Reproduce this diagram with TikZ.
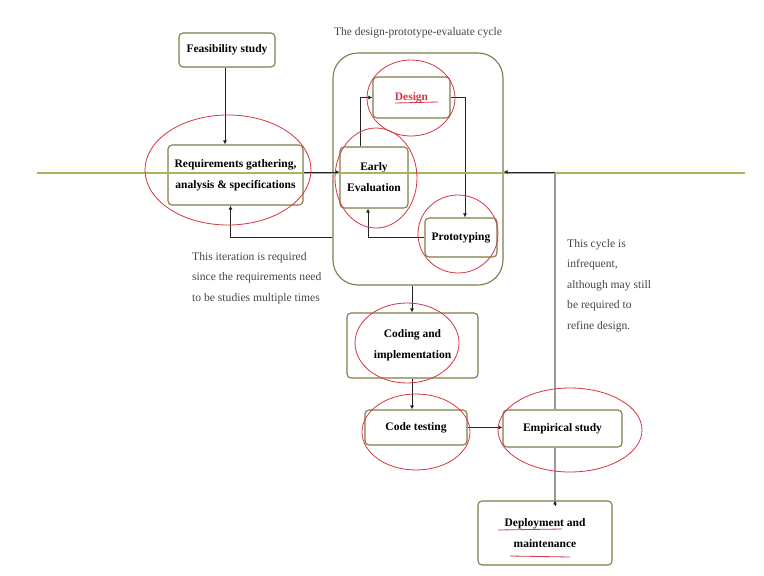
\documentclass[tikz,border=0pt]{standalone}
\usepackage{fontspec}
\setmainfont{Liberation Serif}
\usetikzlibrary{arrows.meta}
\definecolor{boxol}{RGB}{125,125,75}
\definecolor{hlinec}{RGB}{170,180,90}
\definecolor{pen}{RGB}{215,55,65}
\definecolor{conn}{RGB}{35,35,35}
\definecolor{note}{RGB}{70,70,70}
\tikzset{
  box/.style={draw=boxol, line width=1.1pt, rounded corners=4pt, fill=white, align=center,
    font=\fontsize{11.5}{21}\selectfont\bfseries, inner sep=0pt},
  conn/.style={draw=conn, line width=1pt, -{Latex[length=4pt,width=4pt]}},
  grayconn/.style={draw=gray!80, line width=1.6pt},
  annot/.style={align=left, anchor=north west, inner sep=0pt, text=note,
    font=\fontsize{11.6}{20.5}\selectfont},
  penline/.style={draw=pen, line width=0.8pt},
}
\begin{document}
\begin{tikzpicture}[x=1pt,y=-1pt]
\useasboundingbox (0,0) rectangle (764,576);
\fill[white] (0,0) rectangle (764,576);
% big cycle box
\node[draw=boxol, line width=1.1pt, rounded corners=25pt, minimum width=170pt, minimum height=232pt, inner sep=0pt] (cycle) at (418,169) {};
\node[font=\fontsize{11.5}{13}\selectfont, text=note] (title) at (418,33) {The design-prototype-evaluate cycle};
% boxes
\node[box, minimum width=96pt, minimum height=34pt] (feas) at (227,50) {Feasibility study};
\node[box, minimum width=135pt, minimum height=60pt] (req) at (235.5,175) {Requirements gathering,\\analysis \& specifications};
\node[box, minimum width=77pt, minimum height=41pt, text=pen] (design) at (411.5,97.5) {Design};
\node[box, minimum width=68pt, minimum height=61pt] (eval) at (374,177.5) {Early\\Evaluation};
\node[box, minimum width=72pt, minimum height=39pt] (proto) at (461,237.5) {Prototyping};
\node[box, minimum width=131pt, minimum height=65pt] (coding) at (412.5,345.5) {Coding and\\implementation};
\node[box, minimum width=102pt, minimum height=35pt] (testing) at (416,427.5) {Code testing};
\node[box, minimum width=119pt, minimum height=37pt] (emp) at (562.5,428.5) {Empirical study};
\node[box, minimum width=134pt, minimum height=64pt] (deploy) at (545,533) {Deployment and\\maintenance};
% connectors
\draw[conn] (feas.south -| 225,0) -- (req.north -| 225,0);
\draw[conn] ([xshift=-14pt]eval.north) |- (design.west);
\draw[conn] (design.east) -| ([xshift=4pt]proto.north);
\draw[conn] (proto.west) -| ([xshift=-6pt]eval.south);
\coordinate (cl) at (cycle.west |- proto.west);
\draw[conn] (cl) -| ([xshift=-5pt]req.south);
\draw[conn] (cycle.south -| 412,0) -- (coding.north -| 412,0);
\draw[conn] (coding.south -| 412,0) -- (testing.north -| 412,0);
\draw[conn] (testing.east) -- (testing.east -| emp.west);
\coordinate (turn) at (555,172);
\draw[grayconn] (emp.north -| turn) -- (turn);
\draw[grayconn] (emp.south -| turn) -- ([yshift=-5pt]deploy.north -| turn);
\draw[conn] ([yshift=-6pt]deploy.north -| turn) -- (deploy.north -| turn);
% notes
\node[annot] (n1) at (192,252) {This iteration is required\\since the requirements need\\to be studies multiple times};
\node[annot] (n2) at (567,239) {This cycle is\\infrequent,\\although may still\\be required to\\refine design.};
% horizontal line
\draw[hlinec, line width=1.3pt] (37,173) -- (745,173);
% connectors lying on the horizontal line
\draw[conn] (req.east |- turn) -- (turn -| eval.west);
\draw[conn] (turn) -- (turn -| cycle.east);
% red annotations
\draw[penline] (228,170) ellipse [x radius=83, y radius=55];
\draw[penline] (411,98) ellipse [x radius=44, y radius=38];
\draw[penline] (376,178) ellipse [x radius=41, y radius=50];
\draw[penline] (458,234) ellipse [x radius=40, y radius=39];
\draw[penline] (407,343) ellipse [x radius=52, y radius=40];
\draw[penline] (416,432) ellipse [x radius=54, y radius=38];
\draw[penline] (570,430) ellipse [x radius=72, y radius=42];
\draw[penline] (395,103) -- (438,102);
\draw[penline] (498,530) -- (562,529);
\draw[penline] (510,556) -- (570,557);
\end{tikzpicture}
\end{document}
